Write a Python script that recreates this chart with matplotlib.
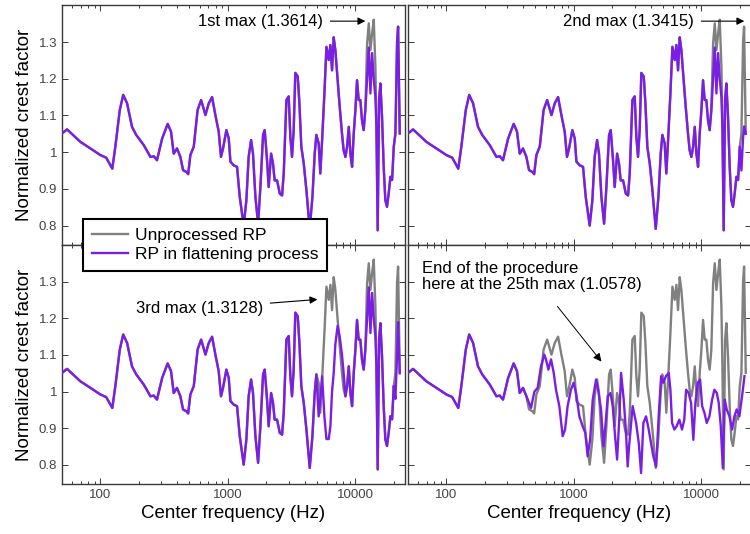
import matplotlib
matplotlib.use('Agg')
import matplotlib.pyplot as plt
from matplotlib.lines import Line2D
from matplotlib.ticker import LogLocator, NullFormatter

plt.rcParams['font.family'] = ['Liberation Sans', 'DejaVu Sans']

# ---------------- data ----------------
freq = [50.0, 54.8, 69.7, 83.6, 100, 111, 120, 124, 131, 142,
        151, 162, 177, 191, 219, 247, 262, 278, 305, 337,
        358, 376, 399, 424, 445, 473, 488, 508, 540, 579,
        617, 667, 708, 752, 798, 847, 883, 916, 973, 1016,
        1047, 1112, 1180, 1239, 1330, 1396, 1455, 1521, 1574, 1644,
        1726, 1799, 1888, 1945, 2028, 2089, 2183, 2259, 2328, 2432,
        2553, 2661, 2742, 2877, 2999, 3090, 3184, 3281, 3381, 3532,
        3639, 3767, 3936, 4130, 4385, 4603, 4797, 4943, 5152, 5309,
        5483, 5715, 5929, 6180, 6368, 6561, 6761, 6966, 7261, 7534,
        7852, 8091, 8356, 8610, 8872, 9141, 9419, 9705, 10000, 10304,
        10617, 10940, 11272, 11614, 11967, 12359, 12735, 13122, 13521, 13932,
        14355, 14622, 14962, 15346, 15704, 16181, 16672, 17179, 17701, 18239,
        18836, 19409, 19999, 20606, 21232, 21627, 22284]

unprocessed = [1.051, 1.062, 1.028, 1.010, 0.992, 0.985, 0.964, 0.955, 1.015, 1.115,
               1.156, 1.133, 1.069, 1.047, 1.019, 0.987, 0.989, 0.978, 1.037, 1.077,
               1.056, 0.996, 1.010, 0.987, 0.951, 0.946, 0.940, 0.992, 1.015, 1.115,
               1.142, 1.101, 1.133, 1.150, 1.101, 1.056, 0.987, 1.010, 1.060, 1.037,
               0.974, 0.964, 0.960, 0.878, 0.800, 0.868, 0.987, 1.033, 0.996, 0.878,
               0.805, 0.905, 1.047, 1.060, 0.978, 0.905, 0.996, 0.969, 0.923, 0.923,
               0.887, 0.882, 0.942, 1.142, 1.152, 1.042, 0.987, 1.060, 1.216, 1.206,
               1.133, 1.015, 0.969, 0.896, 0.791, 0.878, 0.996, 1.047, 1.024, 0.942,
               1.033, 1.160, 1.287, 1.251, 1.292, 1.223, 1.313, 1.278, 1.196, 1.124,
               1.051, 1.005, 0.987, 1.015, 1.069, 0.996, 0.960, 1.051, 1.114, 1.196,
               1.142, 1.142, 1.087, 1.060, 1.114, 1.296, 1.351, 1.278, 1.323, 1.361,
               1.233, 1.069, 0.787, 1.142, 1.187, 1.096, 0.960, 0.869, 0.851, 0.887,
               0.933, 0.924, 1.015, 1.051, 1.300, 1.342, 1.051]

flat_1st = [1.051, 1.062, 1.028, 1.010, 0.992, 0.985, 0.964, 0.955, 1.015, 1.115,
            1.156, 1.133, 1.069, 1.047, 1.019, 0.987, 0.989, 0.978, 1.037, 1.077,
            1.056, 0.996, 1.010, 0.987, 0.951, 0.946, 0.940, 0.992, 1.015, 1.115,
            1.142, 1.101, 1.133, 1.150, 1.101, 1.056, 0.987, 1.010, 1.060, 1.037,
            0.974, 0.964, 0.960, 0.878, 0.800, 0.868, 0.987, 1.033, 0.996, 0.878,
            0.805, 0.905, 1.047, 1.060, 0.978, 0.905, 0.996, 0.969, 0.923, 0.923,
            0.887, 0.882, 0.942, 1.142, 1.152, 1.042, 0.987, 1.060, 1.216, 1.206,
            1.133, 1.015, 0.969, 0.896, 0.791, 0.878, 0.996, 1.047, 1.024, 0.942,
            1.033, 1.160, 1.287, 1.251, 1.292, 1.223, 1.313, 1.278, 1.196, 1.124,
            1.051, 1.005, 0.987, 1.015, 1.069, 0.996, 0.960, 1.051, 1.114, 1.196,
            1.142, 1.142, 1.087, 1.060, 1.114, 1.200, 1.285, 1.160, 1.270, 1.200,
            1.150, 1.069, 0.787, 1.142, 1.187, 1.096, 0.960, 0.869, 0.851, 0.887,
            0.933, 0.924, 1.015, 1.051, 1.300, 1.342, 1.051]

flat_2nd = [1.051, 1.062, 1.028, 1.010, 0.992, 0.985, 0.964, 0.955, 1.015, 1.115,
            1.156, 1.133, 1.069, 1.047, 1.019, 0.987, 0.989, 0.978, 1.037, 1.077,
            1.056, 0.996, 1.010, 0.987, 0.951, 0.946, 0.940, 0.992, 1.015, 1.115,
            1.142, 1.101, 1.133, 1.150, 1.101, 1.056, 0.987, 1.010, 1.060, 1.037,
            0.974, 0.964, 0.960, 0.878, 0.800, 0.868, 0.987, 1.033, 0.996, 0.878,
            0.805, 0.905, 1.047, 1.060, 0.978, 0.905, 0.996, 0.969, 0.923, 0.923,
            0.887, 0.882, 0.942, 1.142, 1.152, 1.042, 0.987, 1.060, 1.216, 1.206,
            1.133, 1.015, 0.969, 0.896, 0.791, 0.878, 0.996, 1.047, 1.024, 0.942,
            1.033, 1.160, 1.287, 1.251, 1.292, 1.223, 1.313, 1.278, 1.196, 1.124,
            1.051, 1.005, 0.987, 1.015, 1.069, 0.996, 0.960, 1.051, 1.114, 1.196,
            1.142, 1.142, 1.087, 1.060, 1.114, 1.200, 1.285, 1.160, 1.270, 1.200,
            1.150, 1.069, 0.787, 1.142, 1.187, 1.096, 0.960, 0.869, 0.851, 0.887,
            0.933, 0.924, 1.015, 0.950, 1.040, 1.070, 1.050]

flat_3rd = [1.051, 1.062, 1.028, 1.010, 0.992, 0.985, 0.964, 0.955, 1.015, 1.115,
            1.156, 1.133, 1.069, 1.047, 1.019, 0.987, 0.989, 0.978, 1.037, 1.077,
            1.056, 0.996, 1.010, 0.987, 0.951, 0.946, 0.940, 0.992, 1.015, 1.115,
            1.142, 1.101, 1.133, 1.150, 1.101, 1.056, 0.987, 1.010, 1.060, 1.037,
            0.974, 0.964, 0.960, 0.878, 0.800, 0.868, 0.987, 1.033, 0.996, 0.878,
            0.805, 0.905, 1.047, 1.060, 0.978, 0.905, 0.996, 0.969, 0.923, 0.923,
            0.887, 0.882, 0.942, 1.142, 1.152, 1.042, 0.987, 1.060, 1.216, 1.206,
            1.133, 1.015, 0.969, 0.896, 0.791, 0.878, 0.996, 1.047, 0.932, 0.978,
            1.042, 0.932, 0.870, 0.870, 0.905, 1.000, 1.051, 1.130, 1.180, 1.150,
            1.100, 1.050, 0.987, 1.015, 1.069, 0.996, 0.960, 1.051, 1.114, 1.196,
            1.142, 1.142, 1.087, 1.060, 1.114, 1.200, 1.285, 1.160, 1.270, 1.200,
            1.150, 1.069, 0.787, 1.142, 1.187, 1.096, 0.960, 0.869, 0.851, 0.887,
            0.933, 0.924, 1.015, 0.980, 1.100, 1.190, 1.050]

freq_25th = [50.0, 54.8, 69.7, 83.6, 100, 111, 120, 124, 131, 142,
             151, 162, 177, 191, 219, 247, 262, 278, 305, 337,
             358, 376, 399,
             435, 461, 490, 520, 552, 586, 604, 631, 662, 695,
             724, 769, 817, 853, 893, 948, 995, 1040, 1104, 1172,
             1230, 1282, 1340, 1406, 1493, 1556, 1633, 1706, 1766, 1845,
             1936, 2018, 2104, 2183, 2275, 2344, 2460, 2564, 2642, 2710,
             2891, 3076, 3228, 3365, 3508, 3681, 3864, 4027, 4198, 4416,
             4624, 4831, 5035, 5272, 5546, 5715, 5888, 6138, 6397, 6714,
             7047, 7345, 7586, 7943, 8299, 8650, 8974, 9376, 9772, 10139,
             10568, 11015, 11561, 12134, 12647, 13213, 13677, 14191, 14723, 15241,
             15812, 16596, 17418, 18155, 18923, 19861, 20845, 21777]

flat_25th = [1.051, 1.062, 1.028, 1.010, 0.992, 0.985, 0.964, 0.955, 1.015, 1.115,
             1.156, 1.133, 1.069, 1.047, 1.019, 0.987, 0.989, 0.978, 1.037, 1.077,
             1.056, 0.996, 1.010,
             0.978, 0.955, 1.000, 1.010, 1.069, 1.101, 1.088, 1.060, 1.088, 1.051,
             1.005, 0.960, 0.878, 0.896, 0.960, 1.005, 1.024, 0.996, 0.932, 0.905,
             0.887, 0.823, 0.868, 0.978, 1.033, 1.001, 0.951, 0.850, 0.905, 0.987,
             0.996, 0.960, 0.878, 0.814, 0.932, 1.051, 0.978, 0.887, 0.795, 0.850,
             0.960, 0.914, 0.859, 0.777, 0.914, 0.932, 0.896, 0.859, 0.823, 0.795,
             0.932, 1.042, 1.024, 1.042, 1.051, 1.005, 0.914, 0.896, 0.905, 0.923,
             0.896, 0.923, 1.005, 0.996, 0.969, 0.868, 0.969, 1.024, 1.033, 0.960,
             0.942, 0.914, 0.932, 0.978, 1.005, 0.996, 0.969, 0.905, 0.791, 0.978,
             0.951, 0.932, 0.896, 0.932, 0.951, 0.932, 0.987, 1.042]

y_ticks = [0.8, 0.9, 1.0, 1.1, 1.2, 1.3]
y_tick_labels = ['0.8', '0.9', '1', '1.1', '1.2', '1.3']
x_ticks = [100, 1000, 10000]
x_tick_labels = ['100', '1000', '10000']

series_labels = ['Unprocessed RP', 'RP in flattening process']
x_label = 'Center frequency (Hz)'
y_label = 'Normalized crest factor'

# ---------------- styling ----------------
GRAY = '#808080'
PURPLE = '#7a1ee6'
SPINE = '#3a3a3a'
TICKC = '#444444'

W, H = 750, 534
fig = plt.figure(figsize=(W / 100, H / 100), dpi=100)


def box(l, t, r, b):
    return [l / W, 1 - b / H, (r - l) / W, (b - t) / H]


axes = [fig.add_axes(box(62, 5, 405, 245)),
        fig.add_axes(box(408, 5, 751, 245)),
        fig.add_axes(box(62, 245, 405, 484)),
        fig.add_axes(box(408, 245, 751, 484))]

panels = [(freq, flat_1st), (freq, flat_2nd), (freq, flat_3rd), (freq_25th, flat_25th)]

for i, (ax, (fx, fy)) in enumerate(zip(axes, panels)):
    ax.plot(freq, unprocessed, color=GRAY, lw=1.7, zorder=2)
    ax.plot(fx, fy, color=PURPLE, lw=1.7, zorder=3)
    ax.set_xscale('log')
    ax.set_xlim(50, 24500)
    ax.set_ylim(0.747, 1.401)
    ax.set_yticks(y_ticks)
    ax.set_xticks(x_ticks)
    ax.xaxis.set_minor_locator(LogLocator(base=10, subs=range(2, 10), numticks=20))
    ax.xaxis.set_minor_formatter(NullFormatter())
    ax.tick_params(which='both', direction='in', top=True, right=True,
                   colors=SPINE, labelcolor=TICKC, labelsize=9.5, width=0.7)
    ax.tick_params(which='major', length=4)
    ax.tick_params(which='minor', length=2.5)
    for s in ax.spines.values():
        s.set_color(SPINE)
        s.set_linewidth(1.0)
    if i % 2 == 0:
        ax.set_yticklabels(y_tick_labels)
        ax.set_ylabel(y_label, fontsize=13.5, labelpad=4)
    else:
        ax.set_yticklabels([])
    if i >= 2:
        ax.set_xticklabels(x_tick_labels)
        ax.set_xlabel(x_label, fontsize=13.5, labelpad=3)
    else:
        ax.set_xticklabels([])

arrow = dict(arrowstyle='-|>', color='black', lw=0.8, mutation_scale=11,
             shrinkA=3, shrinkB=0)

axes[0].annotate('1st max (1.3614)', xy=(11970, 1.357), xytext=(5610, 1.357),
                 ha='right', va='center', fontsize=12, arrowprops=arrow)
axes[1].annotate('2nd max (1.3415)', xy=(21700, 1.357), xytext=(8810, 1.357),
                 ha='right', va='center', fontsize=12, arrowprops=arrow)
axes[2].annotate('3rd max (1.3128)', xy=(5035, 1.252), xytext=(1897, 1.227),
                 ha='right', va='center', fontsize=12, arrowprops=arrow)
axes[3].text(64.9, 1.314, 'End of the procedure\nhere at the 25th max (1.0578)',
             ha='left', va='center', fontsize=12, linespacing=1.05)
axes[3].annotate('', xy=(1644, 1.082), xytext=(743, 1.233),
                 arrowprops=dict(arrowstyle='-|>', color='black', lw=0.7,
                                 mutation_scale=12, shrinkA=0, shrinkB=0))

handles = [Line2D([], [], color=GRAY, lw=1.7), Line2D([], [], color=PURPLE, lw=1.7)]
leg = fig.legend(handles, series_labels, loc='upper left',
                 bbox_to_anchor=(83 / W, 1 - 219 / H), fontsize=12.5,
                 frameon=True, fancybox=False, framealpha=1, edgecolor='black',
                 handlelength=2.1, handletextpad=0.4, borderpad=0.5,
                 labelspacing=0.25, borderaxespad=0)
leg.get_frame().set_linewidth(1.5)
leg.set_zorder(10)

fig.savefig('out.png', dpi=100)
